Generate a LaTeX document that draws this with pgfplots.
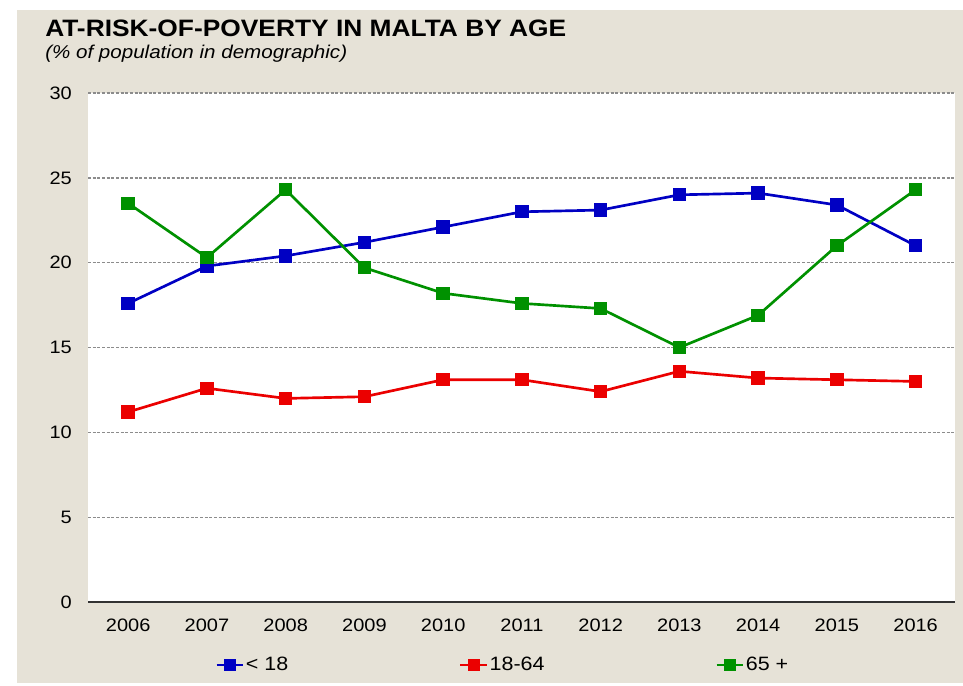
\documentclass[border=0pt]{standalone}
\usepackage{fontspec}
\setmainfont{Liberation Sans}[FakeStretch=1.11]
\usepackage{pgfplots}
\pgfplotsset{compat=1.18}
\definecolor{bgbeige}{RGB}{230,226,215}
\definecolor{sblue}{RGB}{0,0,195}
\definecolor{sred}{RGB}{235,0,0}
\definecolor{sgreen}{RGB}{0,145,0}
\begin{document}
\begin{tikzpicture}
\useasboundingbox (0pt,0pt) rectangle (722.25pt,-513.75pt);
\fill[white] (0pt,0pt) rectangle (722.25pt,-513.75pt);
\fill[bgbeige] (12.75pt,-7.5pt) rectangle (722.25pt,-512.5pt);
\node[anchor=base west, inner sep=0pt, font=\fontsize{17.8pt}{20pt}\selectfont\bfseries] at (33.75pt,-27.75pt) {AT-RISK-OF-POVERTY IN MALTA BY AGE};
\node[anchor=base west, inner sep=0pt, font=\fontsize{13.9pt}{16pt}\selectfont\itshape] at (33.75pt,-44.25pt) {(\% of population in demographic)};
\begin{axis}[
  at={(66pt,-451.5pt)}, anchor=south west,
  scale only axis, width=650.25pt, height=381.75pt,
  xmin=2005.49, xmax=2016.5, ymin=0, ymax=30,
  xtick={2006,2007,2008,2009,2010,2011,2012,2013,2014,2015,2016},
  xticklabels={2006,2007,2008,2009,2010,2011,2012,2013,2014,2015,2016},
  ytick={0,5,10,15,20,25,30},
  /pgf/number format/assume math mode=true,
  tick label style={font=\fontsize{13.5pt}{15pt}\selectfont},
  yticklabel style={anchor=east, inner sep=0pt, xshift=-12pt},
  xticklabel style={anchor=north, inner sep=0pt, yshift=-12.75pt},
  axis line style={draw=none},
  tick style={draw=none},
  axis background/.style={fill=white},
  ymajorgrids,
  major grid style={draw=black!45, line width=1pt, dash pattern=on 2.2pt off 1.3pt},
  extra y ticks={0}, extra y tick labels={},
  extra y tick style={grid=major, major grid style={solid, draw=black!80, line width=1.6pt}},
  every axis plot/.append style={line width=2pt, mark=square*, mark size=4pt, mark options={solid}},
  legend style={at={(0.478,-0.124)}, anchor=center, draw=none, fill=none,
    legend columns=3, font=\fontsize{14.5pt}{16pt}\selectfont,
    nodes={inner xsep=1pt, inner ysep=0pt},
    /tikz/every even column/.append style={column sep=127pt}},
  legend image code/.code={\draw[mark repeat=2,mark phase=2,line width=2pt, mark size=3.6pt] plot coordinates {(0pt,0pt) (10pt,0pt) (20pt,0pt)};},
]
\addplot[color=sblue] coordinates {
(2006,17.6) (2007,19.8) (2008,20.4) (2009,21.2) (2010,22.1) (2011,23.0)
(2012,23.1) (2013,24.0) (2014,24.1) (2015,23.4) (2016,21.0)};
\addlegendentry{< 18}
\addplot[color=sred] coordinates {
(2006,11.2) (2007,12.6) (2008,12.0) (2009,12.1) (2010,13.1) (2011,13.1)
(2012,12.4) (2013,13.6) (2014,13.2) (2015,13.1) (2016,13.0)};
\addlegendentry{18-64}
\addplot[color=sgreen] coordinates {
(2006,23.5) (2007,20.3) (2008,24.3) (2009,19.7) (2010,18.2) (2011,17.6)
(2012,17.3) (2013,15.0) (2014,16.9) (2015,21.0) (2016,24.3)};
\addlegendentry{65 +}
\end{axis}
\end{tikzpicture}
\end{document}
